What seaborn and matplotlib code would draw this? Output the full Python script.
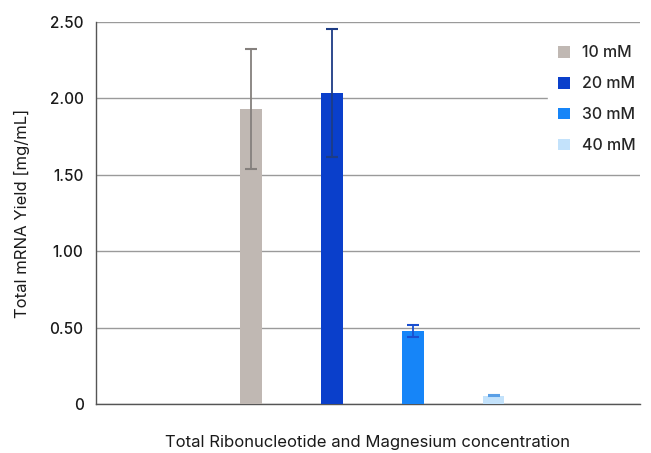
import matplotlib
matplotlib.use("Agg")
import matplotlib.pyplot as plt
from matplotlib.ticker import FuncFormatter
import seaborn as sns
import pandas as pd

# data
concentracoes = ["10 mM", "20 mM", "30 mM", "40 mM"]
rendimento = [1.93, 2.035, 0.48, 0.055]
erro = [0.39, 0.42, 0.04, 0.005]

cores_barra = ["#c0b8b3", "#0a3fcb", "#1685f8", "#c3e2fb"]
cores_erro = ["#85807d", "#1d3c85", "#1a4fd0", "#5a9fe6"]

df = pd.DataFrame({"grupo": ["Total"] * 4, "conc": concentracoes, "yield": rendimento})

sns.set_style("white")
plt.rcParams["font.family"] = ["Inter", "DejaVu Sans"]
plt.rcParams["font.weight"] = "medium"

fig = plt.figure(figsize=(6.51, 4.53), dpi=100)
ax = fig.add_axes([0.1475, 0.108, 0.8355, 0.8435])

sns.barplot(data=df, x="grupo", y="yield", hue="conc", palette=cores_barra,
            saturation=1, gap=0.73, width=0.8, errorbar=None, linewidth=0,
            ax=ax, zorder=3)

barras = [p for p in ax.patches if p.get_height() > 0][:4]
for p, e, c in zip(barras, erro, cores_erro):
    cx = p.get_x() + p.get_width() / 2
    ax.errorbar(cx, p.get_height(), yerr=e, color=c, capsize=4.5, elinewidth=1.3,
                capthick=1.5, zorder=4)

ax.set_ylim(0, 2.5)
ax.set_xlim(-0.683, 0.662)
ax.set_yticks([0, 0.5, 1.0, 1.5, 2.0, 2.5])
ax.yaxis.set_major_formatter(FuncFormatter(lambda v, _: "0" if v == 0 else f"{v:.2f}"))
ax.set_xticks([])
ax.grid(axis="y", color="#9a9a9a", linewidth=1, zorder=0)
ax.set_axisbelow(True)
for s in ["top", "right"]:
    ax.spines[s].set_visible(False)
for s in ["left", "bottom"]:
    ax.spines[s].set_color("#555555")
    ax.spines[s].set_linewidth(1)
ax.tick_params(axis="y", length=0, labelsize=11, pad=9, colors="#1a1a1a")

ax.set_ylabel("Total mRNA Yield [mg/mL]", fontsize=12, color="#1a1a1a", labelpad=14)
ax.set_xlabel("Total Ribonucleotide and Magnesium concentration", fontsize=12,
              color="#1a1a1a", labelpad=22)

leg = ax.legend(loc="upper right", bbox_to_anchor=(1.025, 0.985), frameon=True,
                fontsize=11.5, labelspacing=1.0, handlelength=0.75, handleheight=0.75,
                handletextpad=0.8, borderpad=0.6)
leg.get_frame().set_edgecolor("white")
leg.get_frame().set_facecolor("white")
leg.get_frame().set_alpha(1)
leg.set_zorder(10)

fig.savefig("out.png", dpi=100)
